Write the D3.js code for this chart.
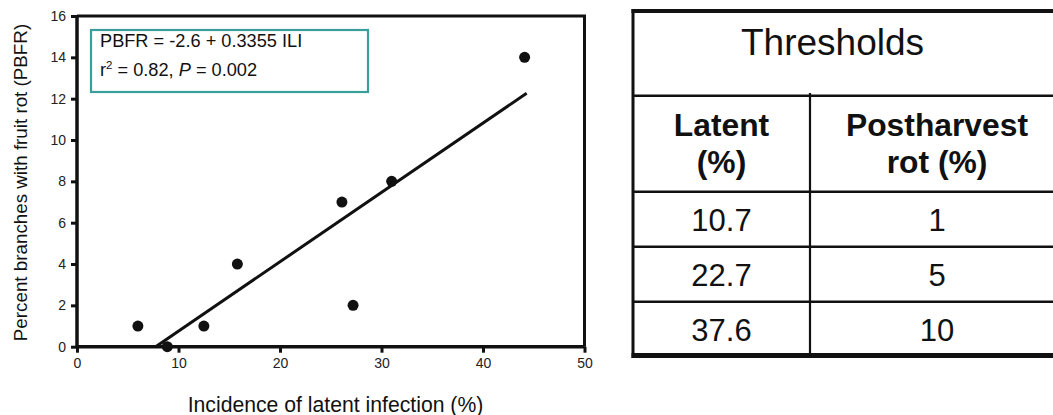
<!DOCTYPE html>
<html>
<head>
<meta charset="utf-8">
<script src="https://cdn.jsdelivr.net/npm/d3@7"></script>
<style>
  html, body { margin: 0; padding: 0; background: #fff; }
  svg { display: block; font-family: "Liberation Sans", Arial, sans-serif; }
</style>
</head>
<body>
<div id="chart"></div>
<script>
// scatter data: incidence of latent infection (%) vs percent branches with fruit rot
const ili  = [6.0, 8.9, 12.5, 15.8, 26.1, 27.2, 31.0, 44.1];
const pbfr = [1, 0, 1, 4, 7, 2, 8, 14];

// fitted line PBFR = -2.6 + 0.3355 ILI, drawn over this ILI range
const intercept = -2.6, slope = 0.3355;
const fitRange = [7.75, 44.3];

const xTicks = [0, 10, 20, 30, 40, 50];
const yTicks = [0, 2, 4, 6, 8, 10, 12, 14, 16];

// thresholds table
const tableTitle = 'Thresholds';
const headLatent = ['Latent', '(%)'];
const headRot = ['Postharvest', 'rot (%)'];
const latentVals = ['10.7', '22.7', '37.6'];
const rotVals = ['1', '5', '10'];

const W = 1053, H = 415;
const INK = '#111';
const TEAL = '#3a9e9b';

const svg = d3.select('#chart').append('svg')
  .attr('width', W).attr('height', H);

const x = d3.scaleLinear().domain([0, 50]).range([77, 584.5]);
const y = d3.scaleLinear().domain([0, 16]).range([346.7, 16]);

const plot = svg.append('g');

// top and right frame
plot.append('path')
  .attr('d', `M${x(0)},${y(16)}H${x(50)}V${y(0)}`)
  .attr('fill', 'none').attr('stroke', INK).attr('stroke-width', 3);

const xAxis = plot.append('g').attr('transform', `translate(0,${y(0)})`)
  .call(d3.axisBottom(x).tickValues(xTicks).tickSize(6).tickPadding(5).tickFormat(d3.format('d')));
const yAxis = plot.append('g').attr('transform', `translate(${x(0)},0)`)
  .call(d3.axisLeft(y).tickValues(yTicks).tickSize(6).tickPadding(5).tickFormat(d3.format('d')));

[xAxis, yAxis].forEach(a => {
  a.select('.domain').attr('stroke', INK).attr('stroke-width', 3.5);
  a.selectAll('.tick line').attr('stroke', INK).attr('stroke-width', 3);
  a.selectAll('.tick text').attr('fill', '#222').attr('font-size', 14)
    .attr('font-family', '"Liberation Sans", Arial, sans-serif');
});
xAxis.select('.domain').attr('d', `M${x(0)},0H${x(50)}`);
yAxis.select('.domain').attr('d', `M0,${y(0) + 1.5}V${y(16)}`);

// regression line
plot.append('line')
  .attr('x1', x(fitRange[0])).attr('y1', y(intercept + slope * fitRange[0]))
  .attr('x2', x(fitRange[1])).attr('y2', y(intercept + slope * fitRange[1]))
  .attr('stroke', INK).attr('stroke-width', 3);

// points
plot.selectAll('circle.pt')
  .data(ili.map((v, i) => [v, pbfr[i]]))
  .join('circle').attr('class', 'pt')
  .attr('cx', d => x(d[0])).attr('cy', d => y(d[1]))
  .attr('r', 5.5).attr('fill', INK);

// equation box
plot.append('rect')
  .attr('x', 91).attr('y', 30).attr('width', 277).attr('height', 62)
  .attr('fill', '#fff').attr('stroke', TEAL).attr('stroke-width', 2.2);
plot.append('text').attr('x', 100).attr('y', 47)
  .attr('font-size', 18.2).attr('fill', INK)
  .text(`PBFR = ${intercept} + ${slope} ILI`);
const t2 = plot.append('text').attr('x', 100).attr('y', 76)
  .attr('font-size', 18.2).attr('fill', INK);
t2.append('tspan').text('r');
t2.append('tspan').attr('dy', -7).attr('font-size', 11.5).text('2');
t2.append('tspan').attr('dy', 7).text(' = 0.82, ');
t2.append('tspan').attr('font-style', 'italic').text('P');
t2.append('tspan').text(' = 0.002');

// axis titles
plot.append('text')
  .attr('x', 335.5).attr('y', 412)
  .attr('text-anchor', 'middle').attr('font-size', 21.2).attr('fill', INK)
  .text('Incidence of latent infection (%)');
plot.append('text')
  .attr('transform', 'translate(27,182.5) rotate(-90)')
  .attr('text-anchor', 'middle').attr('font-size', 18.8).attr('fill', INK)
  .text('Percent branches with fruit rot (PBFR)');

// ---- thresholds table ----
const tb = svg.append('g');
const L = 633, R = 1064, colDiv = 810;
const rowY = [95.7, 191.7, 246.7, 301.7, 355.5];
const line = (x1, y1, x2, y2, w) => tb.append('line')
  .attr('x1', x1).attr('y1', y1).attr('x2', x2).attr('y2', y2)
  .attr('stroke', INK).attr('stroke-width', w);

rowY.slice(0, 4).forEach(ry => line(L, ry, R, ry, 2.5));
line(colDiv, 93, colDiv, rowY[4], 2.2);
line(L - 1.5, 11, R, 11, 4);          // top border
line(L, 9, L, rowY[4] + 2.5, 3);      // left border
line(R, 9, R, rowY[4] + 2.5, 3);
line(L - 1.5, rowY[4], R, rowY[4], 5); // bottom border

tb.append('text').attr('x', 832.5).attr('y', 55)
  .attr('text-anchor', 'middle').attr('font-size', 37).attr('fill', INK)
  .text(tableTitle);

const c1 = (L + colDiv) / 2, c2 = (colDiv + R) / 2;
[[c1, headLatent], [c2, headRot]].forEach(([cx, lines]) => {
  tb.selectAll(null).data(lines).join('text')
    .attr('x', cx).attr('y', (d, i) => 136 + i * 37)
    .attr('text-anchor', 'middle').attr('font-size', 31.8).attr('font-weight', 'bold')
    .attr('fill', INK).text(d => d);
});

[[c1, latentVals], [c2, rotVals]].forEach(([cx, vals]) => {
  tb.selectAll(null).data(vals).join('text')
    .attr('x', cx).attr('y', (d, i) => rowY[i + 1] + 39.5)
    .attr('text-anchor', 'middle').attr('font-size', 31)
    .attr('fill', INK).text(d => d);
});
</script>
</body>
</html>
